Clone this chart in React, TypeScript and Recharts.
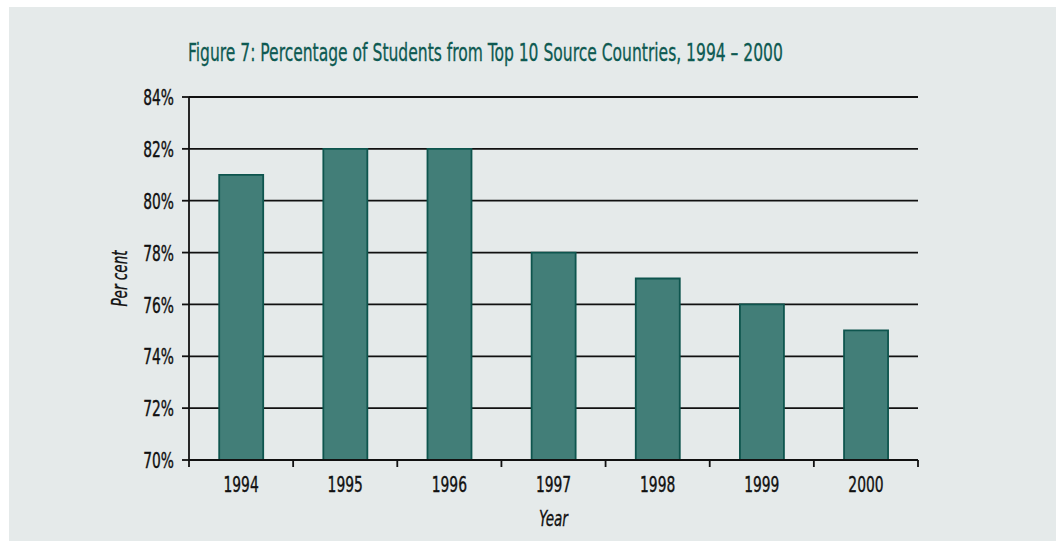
import { BarChart, Bar, XAxis, YAxis, CartesianGrid, Label } from 'recharts';

const years = ['1994', '1995', '1996', '1997', '1998', '1999', '2000'];
const percentTop10 = [81, 82, 82, 78, 77, 76, 75];
const yTicks = [70, 72, 74, 76, 78, 80, 82, 84];

const data = years.map((year, i) => ({ year, value: percentTop10[i] }));

const W = 1047;
const H = 534;
const margin = { top: 90, right: 138, left: 0, bottom: 0 };
const yAxisWidth = 180;
const plotWidth = W - margin.left - margin.right - yAxisWidth;
const step = plotWidth / years.length;

// no condensed face installed, so squeeze DejaVu Condensed horizontally
const font = '"DejaVu Sans Condensed", "DejaVu Sans", sans-serif';
const squeeze = 0.7;
const ink = '#111';

const YearTick = (props: any) => {
  const { x, y, payload, index } = props;
  const left = x - step / 2;
  return (
    <g>
      <line x1={left} y1={y - 7} x2={left} y2={y} stroke={ink} strokeWidth={1.8} />
      {index === years.length - 1 && (
        <line x1={x + step / 2} y1={y - 7} x2={x + step / 2} y2={y} stroke={ink} strokeWidth={1.8} />
      )}
      <text
        transform={`translate(${x},${y + 25}) scale(${squeeze},1)`}
        textAnchor="middle"
        fill={ink}
        stroke={ink}
        strokeWidth={0.4}
        fontSize={22}
        fontFamily={font}
      >
        {payload.value}
      </text>
    </g>
  );
};

const PercentTick = (props: any) => {
  const { x, y, payload } = props;
  return (
    <text
      transform={`translate(${x},${y}) scale(${squeeze},1)`}
      textAnchor="end"
      dominantBaseline="central"
      fill={ink}
      stroke={ink}
      strokeWidth={0.4}
      fontSize={22}
      fontFamily={font}
    >
      {`${payload.value}%`}
    </text>
  );
};

export default function App() {
  return (
    <div style={{ position: 'absolute', left: 9, top: 7, width: W, height: H, background: '#e5eaea' }}>
      <div
        style={{
          position: 'absolute',
          left: 179,
          top: 34,
          fontFamily: font,
          fontSize: 24,
          color: '#0e5a52',
          WebkitTextStroke: '0.3px #0e5a52',
          lineHeight: '24px',
          whiteSpace: 'nowrap',
          transform: 'scaleX(0.72)',
          transformOrigin: 'left center',
        }}
      >
        Figure 7: Percentage of Students from Top 10 Source Countries, 1994 – 2000
      </div>
      <BarChart width={W} height={H} data={data} margin={margin} barCategoryGap="29%">
        <CartesianGrid vertical={false} stroke={ink} strokeWidth={1.8} />
        <XAxis
          dataKey="year"
          height={81}
          axisLine={{ stroke: ink, strokeWidth: 1.8 }}
          tickLine={false}
          tickSize={7}
          tickMargin={0}
          tick={<YearTick />}
          interval={0}
        >
          <Label
            content={(p: any) => (
              <text
                transform={`translate(${p.viewBox.x + p.viewBox.width / 2},${p.viewBox.y + 66}) scale(0.72,1)`}
                textAnchor="middle"
                fontStyle="italic"
                fontSize={21}
                fontFamily={font}
                fill={ink}
                stroke={ink}
                strokeWidth={0.3}
              >
                Year
              </text>
            )}
          />
        </XAxis>
        <YAxis
          width={yAxisWidth}
          domain={[70, 84]}
          ticks={yTicks}
          interval={0}
          axisLine={{ stroke: ink, strokeWidth: 1.8 }}
          tickLine={{ stroke: ink, strokeWidth: 1.8 }}
          tickSize={7}
          tickMargin={8}
          tick={<PercentTick />}
        >
          <Label
            content={(p: any) => {
              const cx = p.viewBox.x + 118;
              const cy = p.viewBox.y + p.viewBox.height / 2;
              return (
                <text
                  transform={`translate(${cx},${cy}) rotate(-90) scale(0.72,1)`}
                  textAnchor="middle"
                  fontStyle="italic"
                  fontSize={21}
                  fontFamily={font}
                  fill={ink}
                  stroke={ink}
                  strokeWidth={0.3}
                >
                  Per cent
                </text>
              );
            }}
          />
        </YAxis>
        <Bar dataKey="value" fill="#427e78" stroke="#0e554e" strokeWidth={1.8} isAnimationActive={false} />
      </BarChart>
    </div>
  );
}
